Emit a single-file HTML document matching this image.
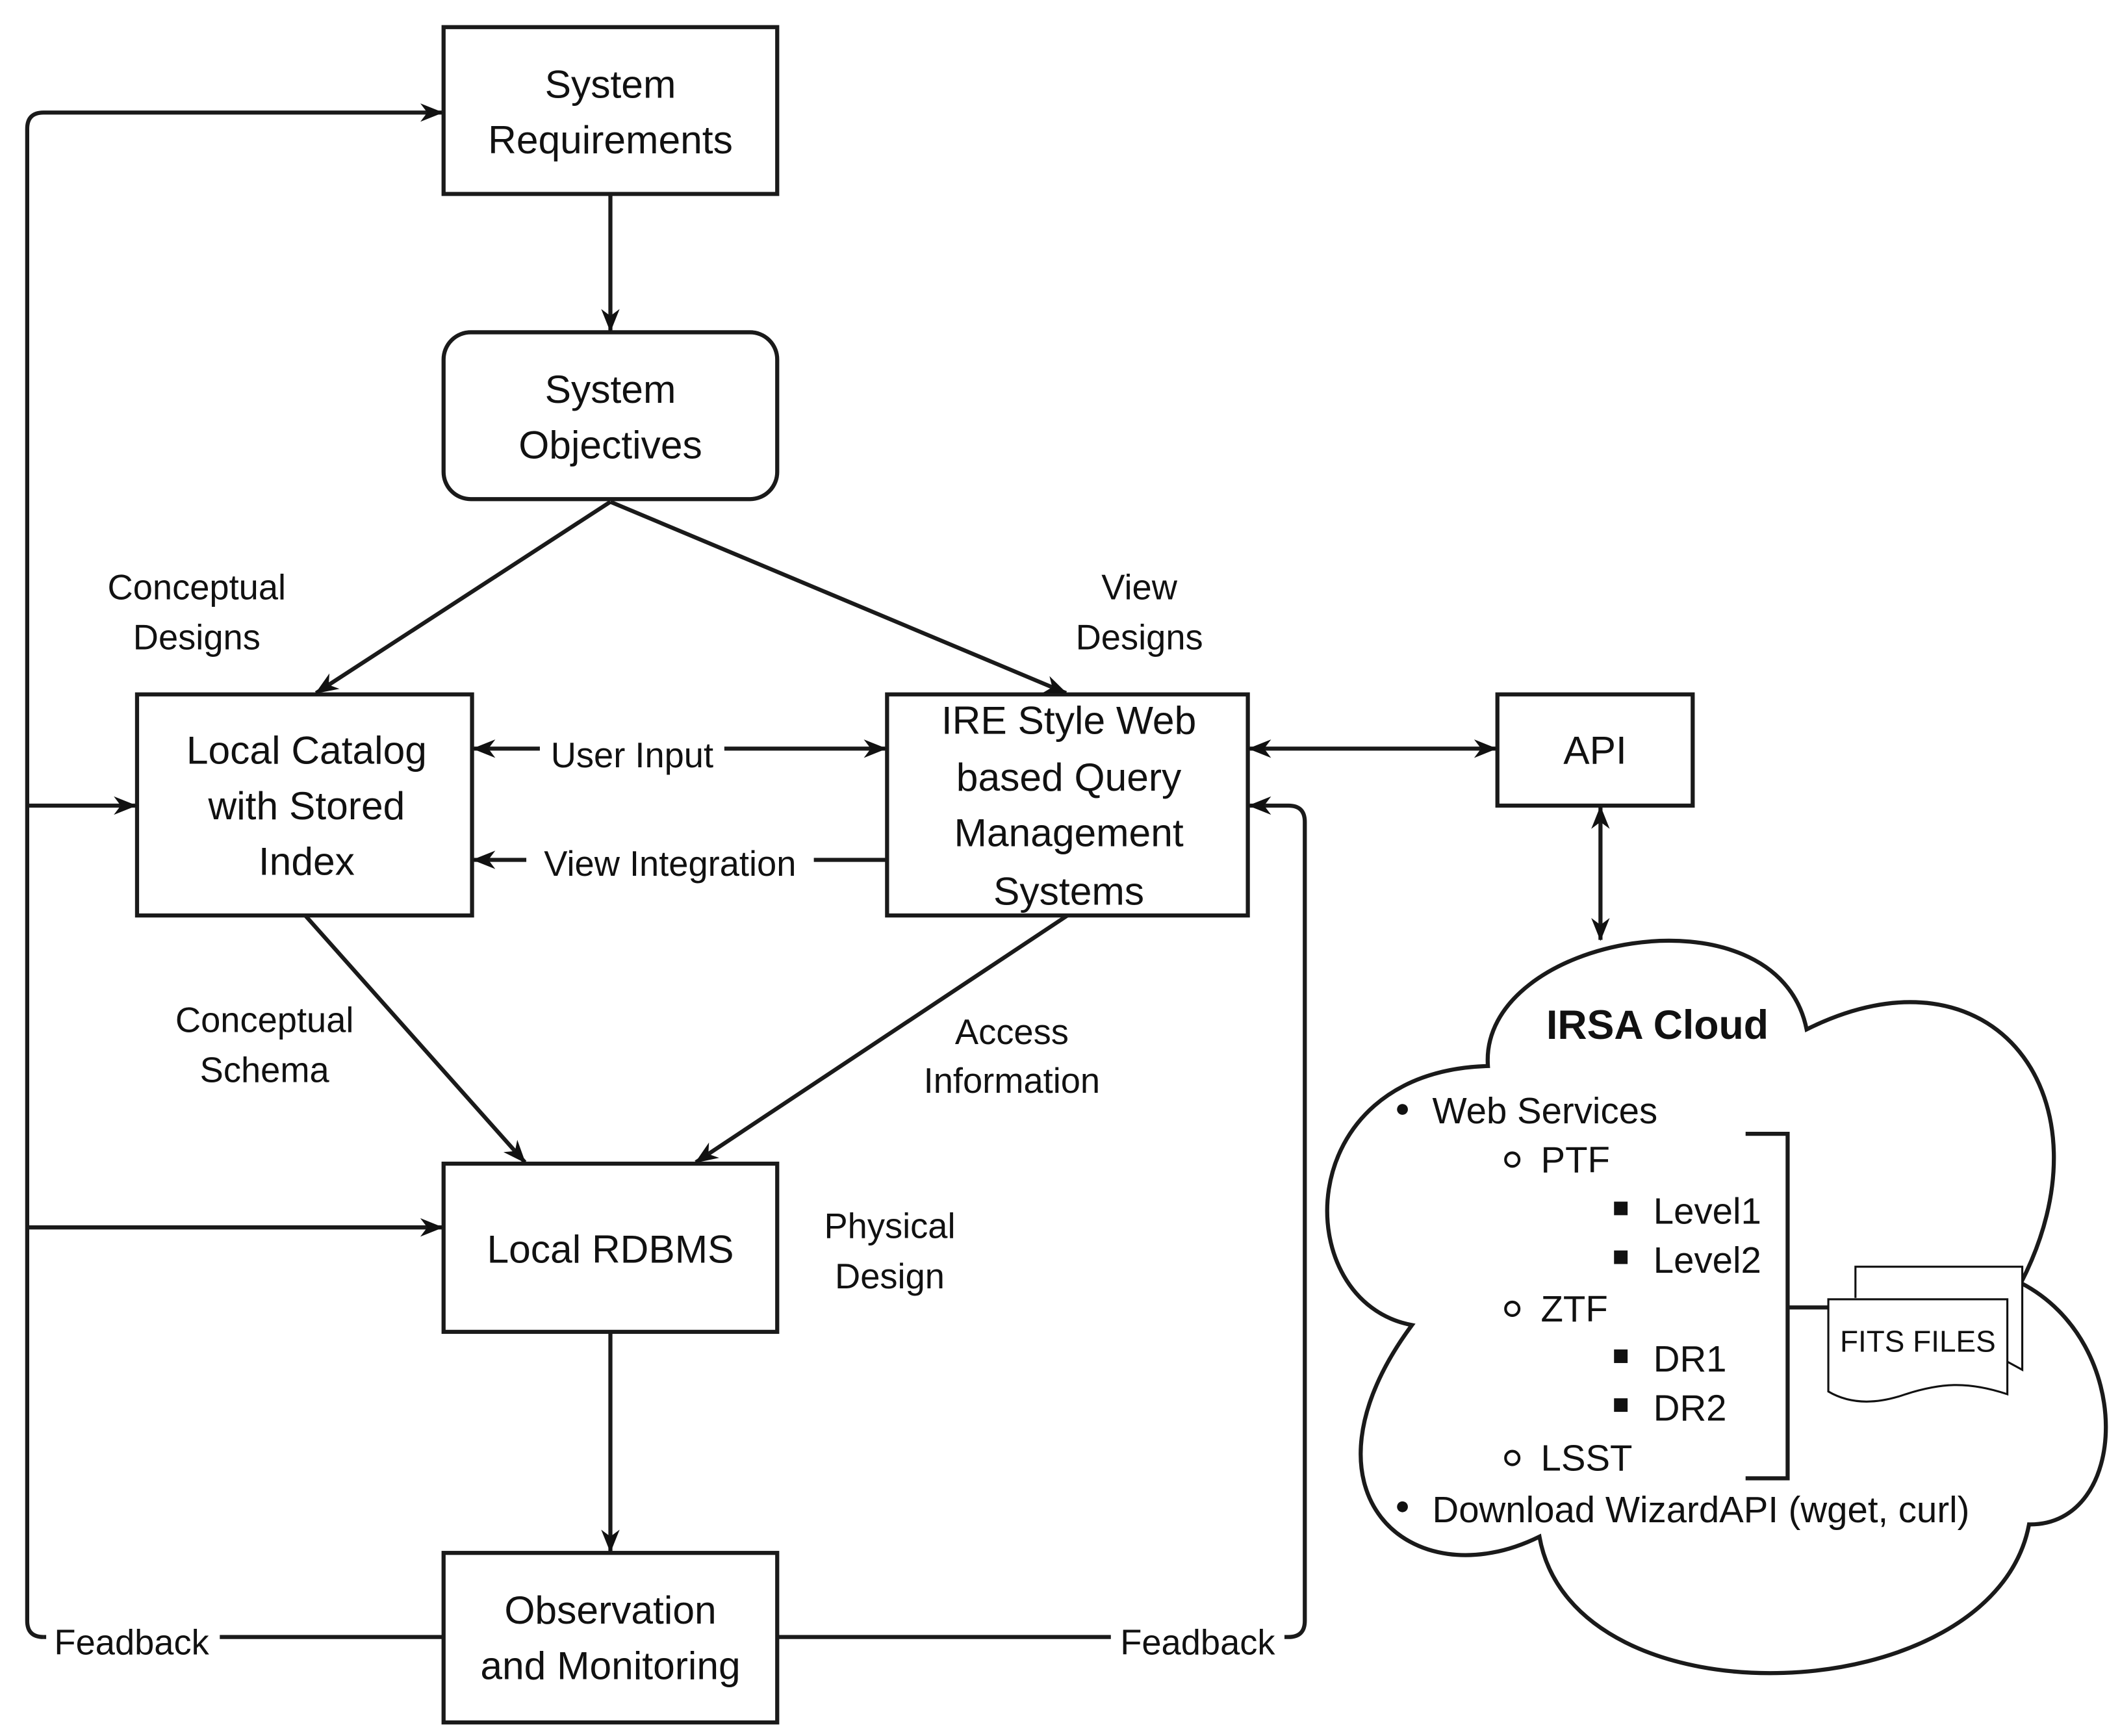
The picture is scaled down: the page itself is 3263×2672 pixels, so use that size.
<!DOCTYPE html>
<html><head><meta charset="utf-8"><style>html,body{margin:0;padding:0;background:#fff}svg{display:block}text{font-family:"Liberation Sans",Arial,sans-serif}</style></head>
<body>
<svg width="3263" height="2672" viewBox="0 0 1563 1280" xmlns="http://www.w3.org/2000/svg" style="font-family:'Liberation Sans',Arial,sans-serif">
<defs>
<marker id="a" viewBox="0 0 10 10" refX="9.5" refY="5" markerWidth="17" markerHeight="17" markerUnits="userSpaceOnUse" orient="auto-start-reverse">
<path d="M0,1 L10,5 L0,9 L3,5 Z" fill="#111"/>
</marker>
</defs>
<rect width="1563" height="1280" fill="#fff"/>
<g fill="none" stroke="#1a1a1a" stroke-width="3">
<rect x="327" y="20" width="246" height="123"/>
<rect x="327" y="245" width="246" height="123" rx="20"/>
<rect x="101" y="512" width="247" height="163"/>
<rect x="654" y="512" width="266" height="163"/>
<rect x="1104" y="512" width="144" height="82"/>
<rect x="327" y="858" width="246" height="124"/>
<rect x="327" y="1145" width="246" height="125"/>
</g>
<g fill="none" stroke="#1a1a1a" stroke-width="3" marker-end="url(#a)">
<line x1="450" y1="143" x2="450" y2="244"/>
<line x1="450" y1="370" x2="233" y2="511"/>
<line x1="450" y1="370" x2="786" y2="511"/>
<line x1="225" y1="675" x2="387" y2="857"/>
<line x1="787" y1="675" x2="513" y2="857"/>
<line x1="450" y1="982" x2="450" y2="1144"/>
<line x1="20" y1="594" x2="100" y2="594"/>
<line x1="20" y1="905" x2="326" y2="905"/>
<path d="M32,1207 Q20,1207 20,1195 L20,95 Q20,83 32,83 L326,83"/>
<line x1="349" y1="552" x2="653" y2="552" marker-start="url(#a)"/>
<line x1="654" y1="634" x2="349" y2="634"/>
<line x1="921" y1="552" x2="1103" y2="552" marker-start="url(#a)"/>
<line x1="1180" y1="595" x2="1180" y2="693" marker-start="url(#a)"/>
<path d="M573,1207 L950,1207 Q962,1207 962,1195 L962,606 Q962,594 950,594 L921,594"/>
<line x1="327" y1="1207" x2="32" y2="1207" marker-end="none"/>
</g>
<g fill="#fff">
<rect x="398" y="540" width="136" height="28"/>
<rect x="388" y="622" width="212" height="28"/>
<rect x="34" y="1196" width="128" height="30"/>
<rect x="819" y="1196" width="128" height="30"/>
</g>
<g font-size="29" fill="#111" text-anchor="middle" dominant-baseline="central">
<text x="450" y="62">System</text>
<text x="450" y="103">Requirements</text>
<text x="450" y="287">System</text>
<text x="450" y="328">Objectives</text>
<text x="226" y="553">Local Catalog</text>
<text x="226" y="594">with Stored</text>
<text x="226" y="635">Index</text>
<text x="788" y="531">IRE Style Web</text>
<text x="788" y="573">based Query</text>
<text x="788" y="614">Management</text>
<text x="788" y="657">Systems</text>
<text x="1176" y="553">API</text>
<text x="450" y="921">Local RDBMS</text>
<text x="450" y="1187">Observation</text>
<text x="450" y="1228">and Monitoring</text>
</g>
<g font-size="26" fill="#111" text-anchor="middle" dominant-baseline="central">
<text x="145" y="433">Conceptual</text>
<text x="145" y="470">Designs</text>
<text x="840" y="433">View</text>
<text x="840" y="470">Designs</text>
<text x="466" y="557">User Input</text>
<text x="494" y="637">View Integration</text>
<text x="195" y="752">Conceptual</text>
<text x="195" y="789">Schema</text>
<text x="746" y="761">Access</text>
<text x="746" y="797">Information</text>
<text x="656" y="904">Physical</text>
<text x="656" y="941">Design</text>
<text x="97" y="1211">Feadback</text>
<text x="883" y="1211">Feadback</text>
</g>
<path d="M1097,786 C1090,690 1310,650 1332,759 C1470,690 1560,810 1490,946 C1575,990 1570,1125 1496,1124 C1470,1262 1160,1275 1135,1133 C1040,1180 950,1100 1041,977 C950,960 950,790 1097,786 Z" fill="#fff" stroke="#1a1a1a" stroke-width="3"/>
<text x="1222" y="756" font-size="30" font-weight="bold" text-anchor="middle" dominant-baseline="central" fill="#111">IRSA Cloud</text>
<g font-size="27" fill="#111" dominant-baseline="central">
<circle cx="1034" cy="818" r="4"/><text x="1056" y="819">Web Services</text>
<text x="1136" y="855">PTF</text>
<text x="1219" y="893">Level1</text>
<text x="1219" y="929">Level2</text>
<text x="1136" y="965">ZTF</text>
<text x="1219" y="1002">DR1</text>
<text x="1219" y="1038">DR2</text>
<text x="1136" y="1075">LSST</text>
<circle cx="1034" cy="1111" r="4"/><text x="1056" y="1113">Download WizardAPI (wget, curl)</text>
</g>
<g fill="none" stroke="#111" stroke-width="2">
<circle cx="1115" cy="855" r="5"/><circle cx="1115" cy="965" r="5"/><circle cx="1115" cy="1075" r="5"/>
</g>
<g fill="#111">
<rect x="1190" y="886" width="10" height="10"/><rect x="1190" y="922" width="10" height="10"/>
<rect x="1190" y="995" width="10" height="10"/><rect x="1190" y="1031" width="10" height="10"/>
</g>
<path d="M1287,836 L1318,836 L1318,1090 L1287,1090 M1318,964 L1348,964" fill="none" stroke="#1a1a1a" stroke-width="3"/>
<path d="M1368,957 L1368,934 L1491,934 L1491,1010 L1480,1004" fill="#fff" stroke="#111" stroke-width="1.5"/>
<path d="M1348,958 L1480,958 L1480,1028 C1450,1018 1430,1020 1405,1028 C1385,1035 1365,1036 1348,1026 Z" fill="#fff" stroke="#111" stroke-width="1.5"/>
<text x="1414" y="989" font-size="22" text-anchor="middle" dominant-baseline="central" fill="#111">FITS FILES</text>
</svg>
</body></html>
